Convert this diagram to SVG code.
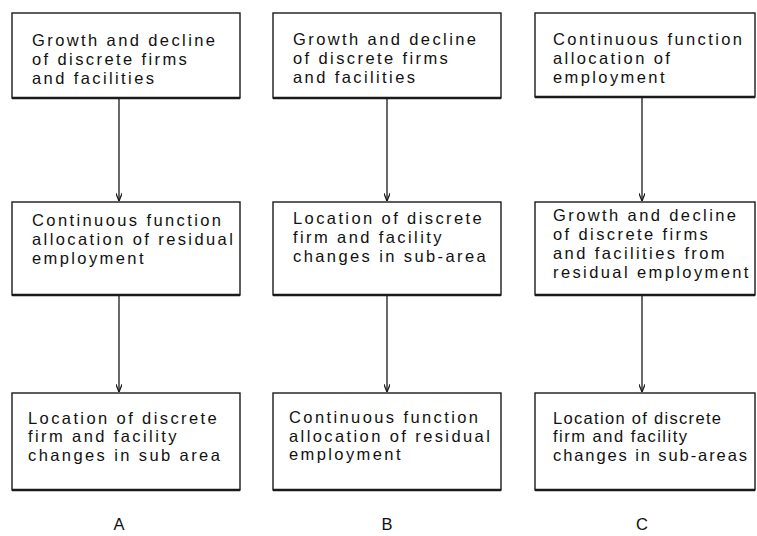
<svg xmlns="http://www.w3.org/2000/svg" width="757" height="536" viewBox="0 0 757 536">
  <style>
    .box { fill: #ffffff; stroke: #1a1a1a; stroke-width: 1.4; }
    .base { stroke: #1a1a1a; stroke-width: 2.4; fill: none; }
    .lbl { font-family: "Liberation Sans", Arial, sans-serif; font-size: 16.5px; letter-spacing: 2.4px; fill: #111111; }
    .fit { letter-spacing: 0px; }
    .cap { font-family: "Liberation Sans", Arial, sans-serif; font-size: 16.5px; fill: #111111; text-anchor: middle; }
    .edge { stroke: #1a1a1a; stroke-width: 1.3; fill: none; marker-end: url(#arrow); }
  </style>
  <defs>
    <marker id="arrow" viewBox="0 0 10 8" refX="10" refY="4" markerWidth="8" markerHeight="6.4" markerUnits="userSpaceOnUse" orient="auto">
      <path d="M0,0 L10,4 L0,8" fill="none" stroke="#1a1a1a" stroke-width="1.6"/>
    </marker>
  </defs>

  <!-- connectors -->
  <g id="connectors">
    <line class="edge" x1="119" y1="98" x2="119" y2="201"/>
    <line class="edge" x1="119" y1="295" x2="119" y2="392"/>
    <line class="edge" x1="387" y1="98" x2="387" y2="201"/>
    <line class="edge" x1="387" y1="295" x2="387" y2="392"/>
    <line class="edge" x1="642" y1="97" x2="642" y2="201"/>
    <line class="edge" x1="642" y1="295" x2="642" y2="392"/>
  </g>

  <!-- column A -->
  <g id="a1">
    <rect class="box" x="12" y="13" width="228" height="85"/>
    <line class="base" x1="12" y1="98" x2="240" y2="98"/>
    <text class="lbl" x="32" y="46">Growth and decline</text>
    <text class="lbl" x="32" y="65">of discrete firms</text>
    <text class="lbl" x="32" y="84">and facilities</text>
  </g>
  <g id="a2">
    <rect class="box" x="12" y="202" width="228" height="93"/>
    <line class="base" x1="12" y1="295" x2="240" y2="295"/>
    <text class="lbl" x="32" y="226">Continuous function</text>
    <text class="lbl" x="32" y="245">allocation of residual</text>
    <text class="lbl" x="32" y="264">employment</text>
  </g>
  <g id="a3">
    <rect class="box" x="12" y="393" width="228" height="97"/>
    <line class="base" x1="12" y1="490" x2="240" y2="490"/>
    <text class="lbl" x="28" y="424">Location of discrete</text>
    <text class="lbl" x="28" y="442">firm and facility</text>
    <text class="lbl" x="28" y="461">changes in sub area</text>
  </g>

  <!-- column B -->
  <g id="b1">
    <rect class="box" x="273" y="13" width="228" height="85"/>
    <line class="base" x1="273" y1="98" x2="501" y2="98"/>
    <text class="lbl" x="293" y="45">Growth and decline</text>
    <text class="lbl" x="293" y="64">of discrete firms</text>
    <text class="lbl" x="293" y="83">and facilities</text>
  </g>
  <g id="b2">
    <rect class="box" x="273" y="202" width="228" height="93"/>
    <line class="base" x1="273" y1="295" x2="501" y2="295"/>
    <text class="lbl" x="293" y="224">Location of discrete</text>
    <text class="lbl" x="293" y="243">firm and facility</text>
    <text class="lbl" x="293" y="262">changes in sub-area</text>
  </g>
  <g id="b3">
    <rect class="box" x="273" y="393" width="228" height="97"/>
    <line class="base" x1="273" y1="490" x2="501" y2="490"/>
    <text class="lbl" x="289" y="423">Continuous function</text>
    <text class="lbl" x="289" y="442">allocation of residual</text>
    <text class="lbl" x="289" y="460">employment</text>
  </g>

  <!-- column C -->
  <g id="c1">
    <rect class="box" x="535" y="13" width="220" height="84"/>
    <line class="base" x1="535" y1="97" x2="755" y2="97"/>
    <text class="lbl" x="553" y="45">Continuous function</text>
    <text class="lbl" x="553" y="64">allocation of</text>
    <text class="lbl" x="553" y="83">employment</text>
  </g>
  <g id="c2">
    <rect class="box" x="535" y="202" width="220" height="93"/>
    <line class="base" x1="535" y1="295" x2="755" y2="295"/>
    <text class="lbl" x="553" y="221">Growth and decline</text>
    <text class="lbl" x="553" y="240">of discrete firms</text>
    <text class="lbl" x="553" y="259">and facilities from</text>
    <text class="lbl" x="553" y="278">residual employment</text>
  </g>
  <g id="c3">
    <rect class="box" x="535" y="393" width="220" height="97"/>
    <line class="base" x1="535" y1="490" x2="755" y2="490"/>
    <text class="lbl fit" x="553" y="424" textLength="168" lengthAdjust="spacing">Location of discrete</text>
    <text class="lbl fit" x="553" y="442" textLength="134" lengthAdjust="spacing">firm and facility</text>
    <text class="lbl fit" x="553" y="461" textLength="194" lengthAdjust="spacing">changes in sub-areas</text>
  </g>

  <!-- column captions -->
  <g id="captions">
    <text class="cap" x="119" y="530">A</text>
    <text class="cap" x="387" y="530">B</text>
    <text class="cap" x="642" y="530">C</text>
  </g>
</svg>
